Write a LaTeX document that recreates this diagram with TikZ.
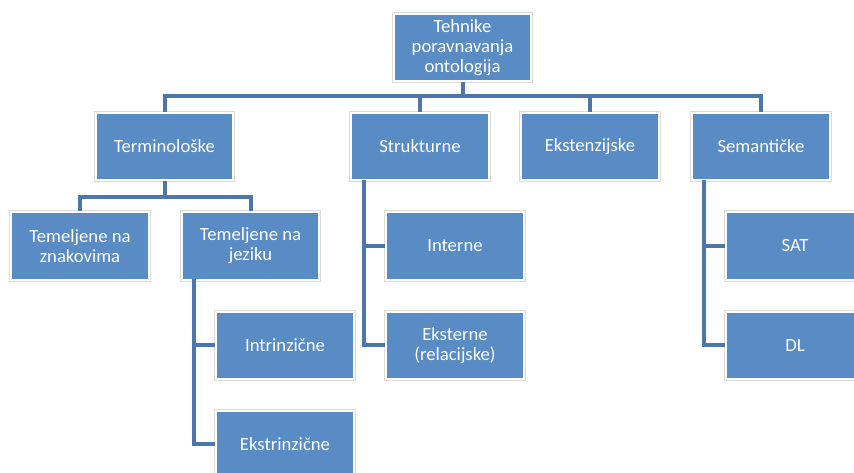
\documentclass[tikz,border=0pt]{standalone}
\usepackage{fontspec}
\setmainfont{Carlito}
\usetikzlibrary{positioning,calc}
\definecolor{boxblue}{RGB}{89,139,197}
\definecolor{lineblue}{RGB}{76,118,172}

\begin{document}
\begin{tikzpicture}[
    x=0.75pt, y=-0.75pt,
    box/.style={rectangle, fill=boxblue, draw=white, line width=1.5pt, preaction={draw=black!14, line width=3pt},
        minimum width=103pt, minimum height=50.5pt, inner sep=2pt, align=center, text=white,
        font=\fontsize{14}{15}\selectfont},
    conn/.style={draw=lineblue, line width=3pt}
]
    \useasboundingbox (0,0) rectangle (854,473);
    \clip (0,0) rectangle (854,473);
    \fill[white] (0,0) rectangle (854,473);

    % Root
    \node[box] (root) at (462.5,47.5) {Tehnike\\poravnavanja\\ontologija};

    % First level
    \node[box] (term) at (164.5,146.5) {Terminološke};
    \node[box] (struk) at (420,146.5) {Strukturne};
    \node[box] (ekst) at (590,146.5) {Ekstenzijske};
    \node[box] (sem) at (761,146.5) {Semantičke};

    % Under Terminološke
    \node[box] (znak) at (80,246) {Temeljene na\\znakovima};
    \node[box] (jez) at (250.5,246) {Temeljene na\\jeziku};
    \node[box] (intr) at (285,345.5) {Intrinzične};
    \node[box] (ekstr) at (285,444.5) {Ekstrinzične};

    % Under Strukturne
    \node[box] (intern) at (455,246) {Interne};
    \node[box] (ekster) at (455,345.5) {Eksterne\\(relacijske)};

    % Under Semantičke
    \node[box] (sat) at (795,246) {SAT};
    \node[box] (dl) at (795,345.5) {DL};

    % Connectors
    \coordinate (bus1) at (462.5,96.5);
    \draw[conn] (root.south) -- (bus1);
    \foreach \n in {term,struk,ekst,sem}
        \draw[conn] (\n.north) |- (bus1);

    \coordinate (bus2) at (164.5,197.5);
    \draw[conn] (term.south) -- (bus2);
    \draw[conn] (znak.north) |- (bus2);
    \draw[conn] (jez.north) |- (bus2);

    \coordinate (jezrail) at (194,279.5);
    \draw[conn] (jezrail) |- (intr.west);
    \draw[conn] (jezrail) |- (ekstr.west);

    \coordinate (strukrail) at (364,180);
    \draw[conn] (strukrail) |- (intern.west);
    \draw[conn] (strukrail) |- (ekster.west);

    \coordinate (semrail) at (704,180);
    \draw[conn] (semrail) |- (sat.west);
    \draw[conn] (semrail) |- (dl.west);
\end{tikzpicture}
\end{document}
